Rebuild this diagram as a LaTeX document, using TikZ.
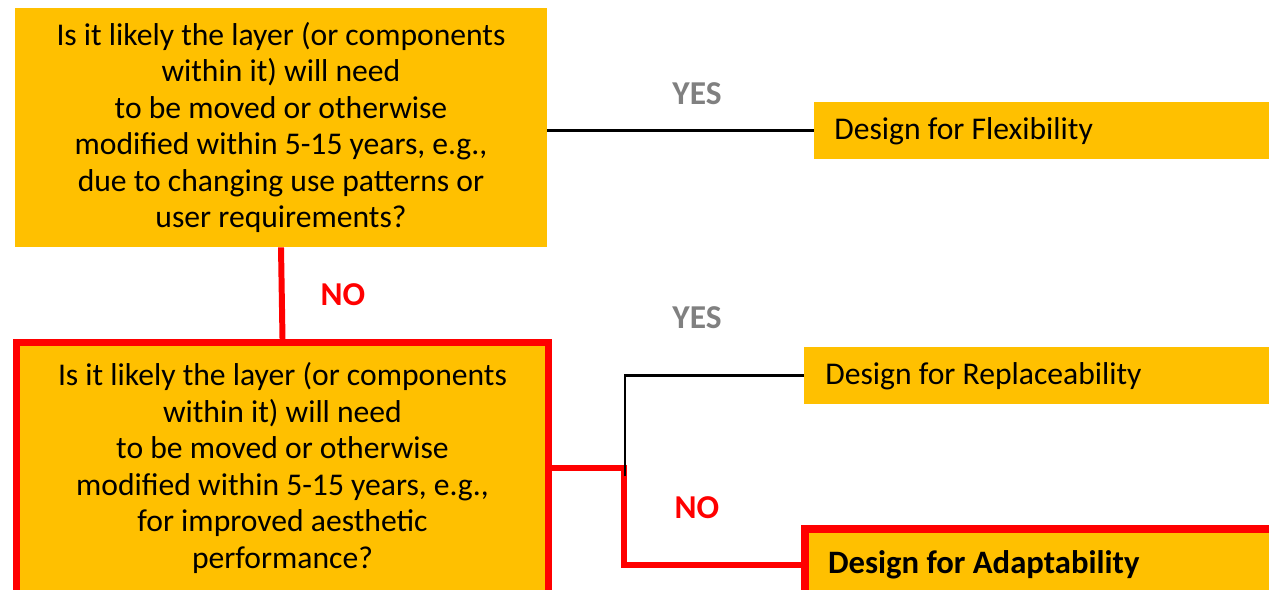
\documentclass[tikz,border=0pt]{standalone}
\usepackage{fontspec}
\setmainfont{Carlito}
\usepackage{xcolor}
\definecolor{boxgold}{HTML}{FFC000}
\definecolor{yesgray}{HTML}{808080}

\begin{document}
\begin{tikzpicture}[x={(0.02cm,0cm)}, y={(0cm,-0.02cm)},
  question/.style={fill=boxgold, align=center, inner sep=0pt,
    font=\fontsize{18}{20.8}\selectfont},
  answer/.style={fill=boxgold, inner sep=0pt, anchor=north west,
    font=\fontsize{18}{22}\selectfont},
  yeslabel/.style={text=yesgray, font=\fontsize{19}{22}\selectfont\bfseries},
  nolabel/.style={text=red, font=\fontsize{19}{22}\selectfont\bfseries},
  yesline/.style={black, line width=1.7pt},
  noline/.style={red, line width=3.4pt}]
  \clip (0,0) rectangle (1269,589);

  % Nodes
  \node[question, minimum width=10.64cm, minimum height=4.78cm] (Q1) at (281,127.5)
    {Is it likely the layer (or components\\ within it) will need\\ to be moved or otherwise\\ modified within 5-15 years, e.g.,\\ due to changing use patterns or\\ user requirements?};
  \node[question, draw=red, line width=4.2pt, minimum width=10.64cm, minimum height=5.02cm] (Q2) at (282.5,468)
    {Is it likely the layer (or components\\ within it) will need\\ to be moved or otherwise\\ modified within 5-15 years, e.g.,\\ for improved aesthetic\\ performance?};

  \node[answer, minimum height=1.14cm] (Flex) at (814,102)
    {\makebox[9.2cm][l]{\hspace*{0.4cm}Design for Flexibility}};
  \node[answer, minimum height=1.14cm] (Repl) at (804,347)
    {\makebox[9.4cm][l]{\hspace*{0.42cm}Design for Replaceability}};
  \node[answer, draw=red, line width=4.6pt, minimum height=1.44cm] (Adapt) at (801,525)
    {\makebox[9.8cm][l]{\hspace*{0.46cm}\fontsize{18.6}{22}\selectfont\textbf{Design for Adaptability}}};

  \node[yeslabel] (Yes1) at (697,94) {YES};
  \node[yeslabel] (Yes2) at (697,318) {YES};
  \node[nolabel] (No1) at (343,295) {NO};
  \node[nolabel] (No2) at (697,508) {NO};

  \coordinate (Split) at (624,468);
  \coordinate (SplitTop) at (625,476);

  % Edges
  \draw[yesline] (Q1.east |- Flex.west) -- (Flex.west);
  \draw[noline] (Q1.south) -- (Q2.north);
  \draw[noline] (Q2.east) -- (Split) |- (Adapt.west);
  \draw[yesline] (SplitTop) |- (Repl.west);
\end{tikzpicture}
\end{document}
